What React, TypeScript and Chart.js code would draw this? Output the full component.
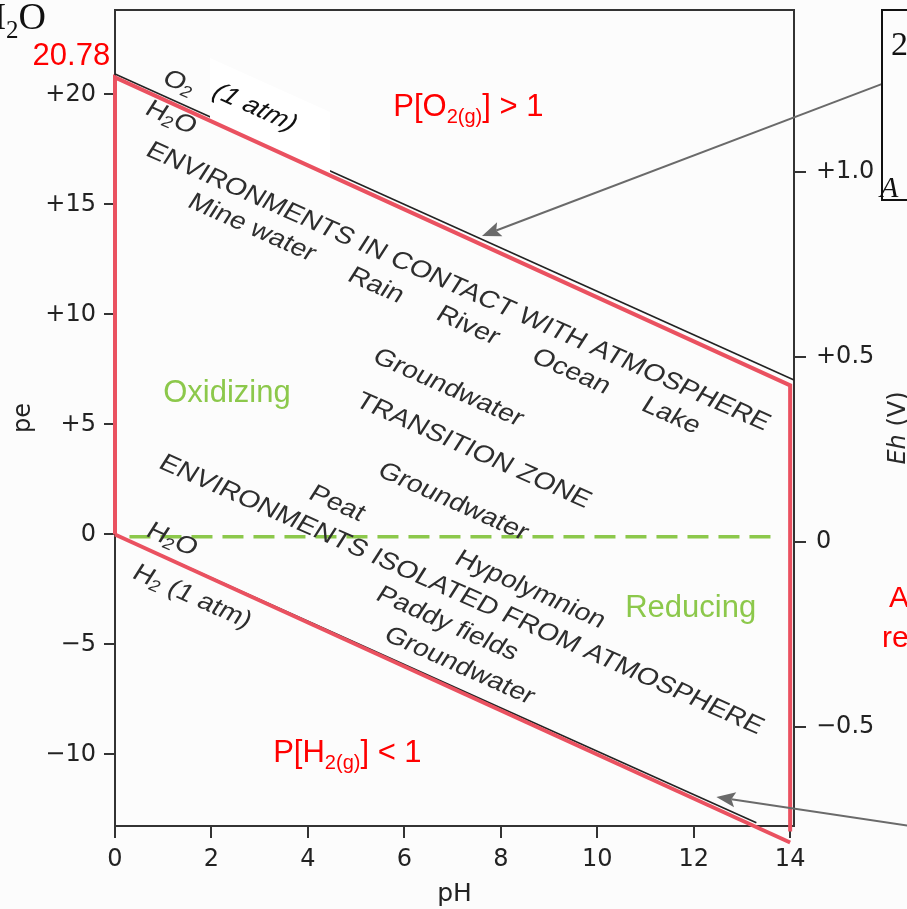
import { useEffect, useRef } from "react";
import { Chart, registerables } from "chart.js";

Chart.register(...registerables);

// ---------- axis ranges ----------
const PH_MIN = 0;
const PH_MAX = 14.08;
const PE_MIN = -13.25;
const PE_MAX = 23.84;
const EH_MIN = -0.768;
const EH_MAX = 1.438;

// ---------- stability boundaries (red overlay) ----------
const OUTLINE_PH = [0, 0, 14, 14];
const OUTLINE_PE = [0, 20.78, 6.78, -13.5];
const H2_LINE_PH = [0, 14];
const H2_LINE_PE = [0, -14];

// ---------- original (black) boundaries ----------
const O2_ORIG_PH = [0, 14.08];
const O2_ORIG_PE = [20.93, 7.02];
const H2_ORIG_PH = [0, 13.3];
const H2_ORIG_PE = [0, -13.1];

// ---------- neutral pe line (green dashed) ----------
const NEUTRAL_PH = [0.3, 13.8];
const NEUTRAL_PE = [-0.1, -0.1];

// ---------- annotation arrows [ph0, pe0, ph1(tip), pe1(tip)] ----------
const ARROW_UPPER = [15.91, 20.48, 7.61, 13.57];
const ARROW_LOWER = [16.49, -13.25, 12.47, -11.93];

// ---------- white patch behind "(1 atm)" (pH, pe corners) ----------
const PATCH_PH = [1.97, 4.46, 4.46, 1.97];
const PATCH_PE = [21.66, 19.2, 16.43, 18.84];

type Seg = { t: string; sub?: boolean; italic?: boolean };

// rotated labels from the original figure: text segments, pH, pe, size, color
const ROT_LABELS: { segs: Seg[]; ph: number; pe: number; size?: number; color?: string }[] = [
  { segs: [{ t: "O" }, { t: "2", sub: true }], ph: 1.33, pe: 20.52 },
  { segs: [{ t: "(1 atm)", italic: true }], ph: 2.9, pe: 19.39, color: "#111" },
  { segs: [{ t: "H" }, { t: "2", sub: true }, { t: "O" }], ph: 1.16, pe: 18.93 },
  { segs: [{ t: "ENVIRONMENTS IN CONTACT WITH ATMOSPHERE" }], ph: 7.11, pe: 11.25 },
  { segs: [{ t: "Mine water" }], ph: 2.84, pe: 13.93 },
  { segs: [{ t: "Rain" }], ph: 5.41, pe: 11.3 },
  { segs: [{ t: "River" }], ph: 7.32, pe: 9.48 },
  { segs: [{ t: "Ocean" }], ph: 9.46, pe: 7.39 },
  { segs: [{ t: "Lake" }], ph: 11.53, pe: 5.39 },
  { segs: [{ t: "Groundwater" }], ph: 6.91, pe: 6.66 },
  { segs: [{ t: "TRANSITION ZONE" }], ph: 7.43, pe: 3.8 },
  { segs: [{ t: "Groundwater" }], ph: 7.01, pe: 1.48 },
  { segs: [{ t: "Peat" }], ph: 4.6, pe: 1.39 },
  { segs: [{ t: "ENVIRONMENTS ISOLATED FROM ATMOSPHERE" }], ph: 7.18, pe: -2.75 },
  { segs: [{ t: "H" }, { t: "2", sub: true }, { t: "O" }], ph: 1.18, pe: -0.25 },
  { segs: [{ t: "H" }, { t: "2", sub: true }, { t: " (1 atm)" }], ph: 1.6, pe: -2.84 },
  { segs: [{ t: "Hypolymnion" }], ph: 8.61, pe: -2.52 },
  { segs: [{ t: "Paddy fields" }], ph: 6.89, pe: -4.07 },
  { segs: [{ t: "Groundwater" }], ph: 7.14, pe: -5.98 },
];

// horizontal coloured labels (left / baseline anchor in pH, pe)
const RED = "#ff0000";
const GREEN = "#8cc84b";
const FLAT_LABELS: { segs: Seg[]; ph: number; pe: number; color: string; align?: string }[] = [
  { segs: [{ t: "P[O" }, { t: "2(g)", sub: true }, { t: "] > 1" }], ph: 5.77, pe: 19.02, color: RED },
  { segs: [{ t: "Oxidizing" }], ph: 1.0, pe: 6.02, color: GREEN },
  { segs: [{ t: "Reducing" }], ph: 10.58, pe: -3.75, color: GREEN },
  { segs: [{ t: "P[H" }, { t: "2(g)", sub: true }, { t: "] < 1" }], ph: 3.28, pe: -10.34, color: RED },
  { segs: [{ t: "20.78" }], ph: -0.1, pe: 21.34, color: RED, align: "right" },
];

const SANS = '"Liberation Sans", Arial, Helvetica, sans-serif';
const DEJAVU = '"DejaVu Sans", sans-serif';
const SERIF = '"Liberation Serif", "Times New Roman", serif';
const SX = 1.2;
const PIX_ANGLE = (24 * Math.PI) / 180;
const THETA0 = Math.atan(SX * Math.tan(PIX_ANGLE));

function pts(xs: number[], ys: number[]) {
  return xs.map((x, i) => ({ x, y: ys[i] }));
}

function segFont(seg: Seg, size: number, family: string) {
  const s = seg.sub ? Math.round(size * 0.66) : size;
  return `${seg.italic ? "italic " : ""}${s}px ${family}`;
}

function drawSegs(ctx: CanvasRenderingContext2D, segs: Seg[], size: number, family: string, align: string) {
  const widths: number[] = [];
  let total = 0;
  for (const s of segs) {
    ctx.font = segFont(s, size, family);
    const w = ctx.measureText(s.t).width;
    widths.push(w);
    total += w;
  }
  let x = align === "center" ? -total / 2 : align === "right" ? -total : 0;
  ctx.textAlign = "left";
  segs.forEach((s, i) => {
    ctx.font = segFont(s, size, family);
    ctx.fillText(s.t, x, s.sub ? size * 0.24 : 0);
    x += widths[i];
  });
}

function arrow(ctx: CanvasRenderingContext2D, x0: number, y0: number, x1: number, y1: number) {
  const a = Math.atan2(y1 - y0, x1 - x0);
  const L = 19;
  const W = 7.5;
  ctx.beginPath();
  ctx.moveTo(x0, y0);
  ctx.lineTo(x1 - L * 0.8 * Math.cos(a), y1 - L * 0.8 * Math.sin(a));
  ctx.stroke();
  ctx.beginPath();
  ctx.moveTo(x1, y1);
  ctx.lineTo(x1 - L * Math.cos(a) + W * Math.sin(a), y1 - L * Math.sin(a) - W * Math.cos(a));
  ctx.lineTo(x1 - L * 0.8 * Math.cos(a), y1 - L * 0.8 * Math.sin(a));
  ctx.lineTo(x1 - L * Math.cos(a) - W * Math.sin(a), y1 - L * Math.sin(a) + W * Math.cos(a));
  ctx.closePath();
  ctx.fill();
}

const decorPlugin = {
  id: "decor",
  beforeDraw(chart: any) {
    const ctx = chart.ctx;
    ctx.save();
    ctx.fillStyle = "#fcfcfc";
    ctx.fillRect(0, 0, chart.width, chart.height);
    ctx.restore();
  },
  afterDatasetDraw(chart: any, args: any) {
    const ds = chart.data.datasets[args.index];
    if (ds.label !== "O2/H2O original") return;
    const X = (v: number) => chart.scales.x.getPixelForValue(v);
    const Y = (v: number) => chart.scales.y.getPixelForValue(v);
    const ctx = chart.ctx;
    ctx.save();
    ctx.fillStyle = "#ffffff";
    ctx.beginPath();
    PATCH_PH.forEach((p, i) => {
      if (i === 0) ctx.moveTo(X(p), Y(PATCH_PE[i]));
      else ctx.lineTo(X(p), Y(PATCH_PE[i]));
    });
    ctx.closePath();
    ctx.fill();
    ctx.restore();
  },
  afterDraw(chart: any) {
    const ctx: CanvasRenderingContext2D = chart.ctx;
    const X = (v: number) => chart.scales.x.getPixelForValue(v);
    const Y = (v: number) => chart.scales.y.getPixelForValue(v);
    const ca = chart.chartArea;
    ctx.save();

    // top frame line
    ctx.strokeStyle = "#333";
    ctx.lineWidth = 2;
    ctx.beginPath();
    ctx.moveTo(ca.left - 1, ca.top);
    ctx.lineTo(ca.right + 1, ca.top);
    ctx.stroke();

    // rotated figure labels
    for (const lab of ROT_LABELS) {
      ctx.save();
      ctx.translate(X(lab.ph), Y(lab.pe));
      ctx.transform(SX, 0, 0, 1, 0, 0);
      ctx.rotate(THETA0);
      ctx.fillStyle = lab.color || "#2e2e2e";
      ctx.textBaseline = "middle";
      drawSegs(ctx, lab.segs, lab.size || 24, SANS, "center");
      ctx.restore();
    }

    // flat coloured labels
    for (const lab of FLAT_LABELS) {
      ctx.save();
      ctx.translate(X(lab.ph), Y(lab.pe));
      ctx.fillStyle = lab.color;
      ctx.textBaseline = "alphabetic";
      drawSegs(ctx, lab.segs, 31, SANS, lab.align || "left");
      ctx.restore();
    }

    // arrows
    ctx.strokeStyle = "#6a6a6a";
    ctx.fillStyle = "#6a6a6a";
    ctx.lineWidth = 2;
    for (const a of [ARROW_UPPER, ARROW_LOWER]) {
      arrow(ctx, X(a[0]), Y(a[1]), X(a[2]), Y(a[3]));
    }

    // right axis title (reads bottom to top)
    ctx.save();
    ctx.translate(chart.width - 8, (ca.top + ca.bottom) / 2 + 10);
    ctx.rotate(-Math.PI / 2);
    ctx.fillStyle = "#2a2a2a";
    ctx.textBaseline = "middle";
    drawSegs(ctx, [{ t: "Eh", italic: true }, { t: " (V)" }], 24, DEJAVU, "center");
    ctx.restore();

    // cut-off fragments at the edges of the slide
    ctx.strokeStyle = "#111";
    ctx.lineWidth = 2;
    ctx.strokeRect(882, 10, 40, 190);
    ctx.fillStyle = "#111";
    ctx.textBaseline = "alphabetic";
    ctx.textAlign = "left";
    ctx.font = `34px ${SERIF}`;
    ctx.fillText("2", 891, 55);
    ctx.font = `italic 30px ${SERIF}`;
    ctx.fillText("A", 880, 197);

    ctx.save();
    ctx.translate(46, 29);
    drawSegs(ctx, [{ t: "H" }, { t: "2", sub: true }, { t: "O" }], 38, SERIF, "right");
    ctx.restore();

    ctx.fillStyle = RED;
    ctx.font = `30px ${SANS}`;
    ctx.fillText("A", 889, 607);
    ctx.fillText("re", 882, 647);

    ctx.restore();
  },
};

const fmtPe = (v: any) => {
  const n = Number(v);
  if (n > 0) return `+${n}`;
  if (n < 0) return `\u2212${-n}`;
  return "0";
};
const fmtEh = (v: any) => {
  const n = Math.round(Number(v) * 10) / 10;
  if (n > 0) return `+${n.toFixed(1)}`;
  if (n < 0) return `\u2212${(-n).toFixed(1)}`;
  return "0";
};

const noPad = (s: any) => {
  s.paddingTop = 0;
  s.paddingBottom = 0;
  s.paddingLeft = 0;
  s.paddingRight = 0;
};

export default function App() {
  const ref = useRef<HTMLCanvasElement>(null);
  useEffect(() => {
    if (!ref.current) return;
    const tickFont = { family: DEJAVU, size: 24 };
    const grid = (len: number) => ({
      display: true,
      drawOnChartArea: false,
      drawTicks: true,
      tickLength: len,
      color: "#333",
      lineWidth: 2,
    });
    const border = { display: true, color: "#333", width: 2 };
    const chart = new Chart(ref.current, {
      type: "line",
      data: {
        datasets: [
          {
            label: "O2/H2O original",
            data: pts(O2_ORIG_PH, O2_ORIG_PE),
            borderColor: "#222",
            borderWidth: 1.6,
            pointRadius: 0,
            order: 5,
            clip: false,
          },
          {
            label: "H2O/H2 original",
            data: pts(H2_ORIG_PH, H2_ORIG_PE),
            borderColor: "#222",
            borderWidth: 1.6,
            pointRadius: 0,
            order: 4,
            clip: false,
          },
          {
            label: "Water stability field",
            data: pts(OUTLINE_PH, OUTLINE_PE),
            borderColor: "#ea5160",
            borderWidth: 4,
            pointRadius: 0,
            borderJoinStyle: "miter",
            order: 2,
            clip: false,
          },
          {
            label: "H2O/H2 boundary",
            data: pts(H2_LINE_PH, H2_LINE_PE),
            borderColor: "#ea5160",
            borderWidth: 4,
            pointRadius: 0,
            order: 1,
            clip: false,
          },
          {
            label: "pe = 0",
            data: pts(NEUTRAL_PH, NEUTRAL_PE),
            borderColor: GREEN,
            borderWidth: 3.5,
            borderDash: [21, 10],
            pointRadius: 0,
            order: 0,
            clip: false,
          },
        ],
      } as any,
      options: {
        responsive: false,
        maintainAspectRatio: false,
        animation: false,
        layout: { padding: { top: 10, left: 0, right: 0, bottom: 0 } },
        plugins: { legend: { display: false }, tooltip: { enabled: false } },
        scales: {
          x: {
            type: "linear",
            position: "bottom",
            min: PH_MIN,
            max: PH_MAX,
            ticks: {
              stepSize: 2,
              includeBounds: false,
              padding: 7,
              color: "#222",
              font: tickFont,
              maxRotation: 0,
              autoSkip: false,
            },
            grid: grid(12),
            border,
            title: {
              display: true,
              text: "pH",
              color: "#222",
              font: { family: DEJAVU, size: 25 },
              padding: { top: 0, bottom: 0 },
            },
            afterFit: (s: any) => {
              noPad(s);
              s.height = 83;
            },
          },
          y: {
            type: "linear",
            position: "left",
            min: PE_MIN,
            max: PE_MAX,
            ticks: {
              stepSize: 5,
              includeBounds: false,
              padding: 8,
              color: "#222",
              font: tickFont,
              callback: fmtPe,
            },
            grid: grid(11),
            border,
            title: {
              display: true,
              text: "pe",
              color: "#222",
              font: { family: DEJAVU, size: 24 },
              padding: { top: 9, bottom: 0 },
            },
            afterFit: (s: any) => {
              noPad(s);
              s.width = 115;
            },
          },
          y2: {
            type: "linear",
            position: "right",
            min: EH_MIN,
            max: EH_MAX,
            ticks: {
              stepSize: 0.5,
              includeBounds: false,
              padding: 10,
              color: "#222",
              font: tickFont,
              callback: fmtEh,
            },
            grid: grid(12),
            border,
            afterFit: (s: any) => {
              noPad(s);
              s.width = 113;
            },
          },
        },
      } as any,
      plugins: [decorPlugin as any],
    });
    return () => chart.destroy();
  }, []);

  return (
    <div style={{ position: "absolute", left: 0, top: 0, width: 907, height: 909 }}>
      <canvas ref={ref} width={907} height={909} style={{ display: "block" }} />
    </div>
  );
}
